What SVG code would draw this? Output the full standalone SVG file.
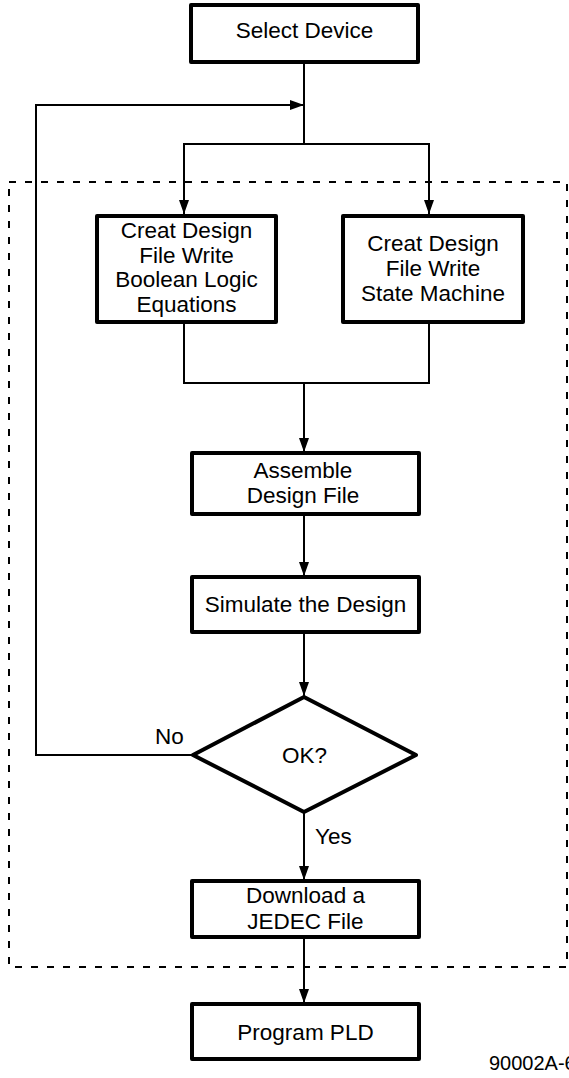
<svg xmlns="http://www.w3.org/2000/svg" width="569" height="1078" viewBox="0 0 569 1078">
  <style>
    .box { fill: #ffffff; stroke: #000000; stroke-width: 4; stroke-linejoin: round; }
    .wire { fill: none; stroke: #000000; stroke-width: 2; }
    .frame { fill: none; stroke: #000000; stroke-width: 2; stroke-dasharray: 7 9; }
    text { font-family: "Liberation Sans", Arial, Helvetica, sans-serif; font-size: 22.5px; fill: #000000; }
    .c { text-anchor: middle; }
    .ref { font-size: 20px; }
  </style>
  <defs>
    <marker id="arrow" viewBox="0 0 14 10" refX="14" refY="5" markerWidth="14" markerHeight="10" markerUnits="userSpaceOnUse" orient="auto">
      <path d="M0,0 L14,5 L0,10 Z" fill="#000000"/>
    </marker>
  </defs>

  <!-- dashed boundary around the design loop -->
  <rect class="frame" x="9" y="182" width="558" height="785"/>

  <g id="connectors">
    <!-- device selection down to the branch -->
    <path class="wire" d="M304,62 V144"/>
    <!-- branch to the two design-entry methods -->
    <path class="wire" d="M304,144 H184 V214" marker-end="url(#arrow)"/>
    <path class="wire" d="M304,144 H429 V214" marker-end="url(#arrow)"/>
    <!-- merge of the two design-entry methods -->
    <path class="wire" d="M184,322 V383 H429 V322"/>
    <path class="wire" d="M304,383 V452" marker-end="url(#arrow)"/>
    <path class="wire" d="M304,514 V576" marker-end="url(#arrow)"/>
    <path class="wire" d="M304,632 V696" marker-end="url(#arrow)"/>
    <!-- "No" loop back to the start -->
    <path class="wire" d="M193,755 H36 V105 H304" marker-end="url(#arrow)"/>
    <!-- "Yes" path -->
    <path class="wire" d="M304,812 V880" marker-end="url(#arrow)"/>
    <path class="wire" d="M304,937 V1003" marker-end="url(#arrow)"/>
  </g>

  <g id="select-device">
    <rect class="box" x="191" y="5" width="227" height="57"/>
    <text class="c" x="304.5" y="38">Select Device</text>
  </g>

  <g id="design-boolean">
    <rect class="box" x="97" y="216" width="179" height="106"/>
    <text class="c" x="186.5" y="238">Creat Design</text>
    <text class="c" x="186.5" y="262.5">File Write</text>
    <text class="c" x="186.5" y="287">Boolean Logic</text>
    <text class="c" x="186.5" y="311.5">Equations</text>
  </g>

  <g id="design-state-machine">
    <rect class="box" x="343" y="216" width="180" height="106"/>
    <text class="c" x="433" y="251">Creat Design</text>
    <text class="c" x="433" y="276">File Write</text>
    <text class="c" x="433" y="300.5">State Machine</text>
  </g>

  <g id="assemble">
    <rect class="box" x="192" y="453" width="227" height="61"/>
    <text class="c" x="303" y="478">Assemble</text>
    <text class="c" x="303" y="503">Design File</text>
  </g>

  <g id="simulate">
    <rect class="box" x="192" y="577" width="227" height="55"/>
    <text class="c" x="305.5" y="612">Simulate the Design</text>
  </g>

  <g id="ok-decision">
    <polygon class="box" points="304,697 416,755 304,812 193,755"/>
    <text class="c" x="304.5" y="763">OK?</text>
    <text x="155" y="744">No</text>
    <text x="315" y="844">Yes</text>
  </g>

  <g id="download-jedec">
    <rect class="box" x="192" y="881" width="227" height="56"/>
    <text class="c" x="305.5" y="903">Download a</text>
    <text class="c" x="305.5" y="929">JEDEC File</text>
  </g>

  <g id="program-pld">
    <rect class="box" x="192" y="1004" width="227" height="55"/>
    <text class="c" x="305.5" y="1040">Program PLD</text>
  </g>

  <text class="ref" x="489" y="1070">90002A-6</text>
</svg>
